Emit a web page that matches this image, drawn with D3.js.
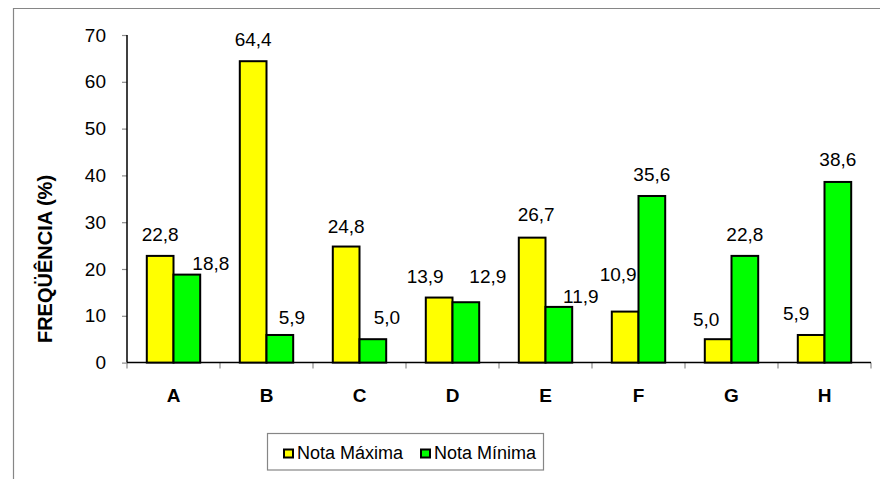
<!DOCTYPE html>
<html>
<head>
<meta charset="utf-8">
<script src="https://cdn.jsdelivr.net/npm/d3@7/dist/d3.min.js"></script>
<style>
  html, body { margin: 0; padding: 0; background: #fff; }
  svg { display: block; font-family: "Liberation Sans", Arial, sans-serif; }
</style>
</head>
<body>
<svg id="chart" width="880" height="479"></svg>
<script>
// Categories and the two series (percent)
const categories = ["A", "B", "C", "D", "E", "F", "G", "H"];
const notaMaxima = [22.8, 64.4, 24.8, 13.9, 26.7, 10.9, 5.0, 5.9];
const notaMinima = [18.8, 5.9, 5.0, 12.9, 11.9, 35.6, 22.8, 38.6];
const yTicks = [0, 10, 20, 30, 40, 50, 60, 70];
const seriesNames = ["Nota Máxima", "Nota Mínima"];
const seriesColors = ["#ffff00", "#00ff00"];
const axisTitle = "FREQÜÊNCIA (%)";

// Hand-placed nudges of the value labels [dx, dy of baseline from bar top]
const maxLabelNudge = [[0, -15], [0, -15], [0, -14], [-14, -15], [4, -17], [-7, -31], [-12, -13], [-15, -15]];
const minLabelNudge = [[24, -5], [12, -11], [14, -15], [22, -19], [22, -4], [0, -15], [0, -15], [0, -16]];

const svg = d3.select("#chart");
const fmt = d3.formatLocale({ decimal: ",", thousands: ".", grouping: [3], currency: ["", ""] }).format(".1f");

const plot = { left: 127, right: 871, top: 35, bottom: 362.6 };

const x = d3.scaleBand().domain(categories).range([plot.left, plot.right]).padding(0);
const inner = d3.scaleBand().domain([0, 1]).range([19.8, x.bandwidth() - 19.8]).padding(0);
const y = d3.scaleLinear().domain([0, 70]).range([plot.bottom, plot.top]);

// Outer frame (runs off the right and bottom edges)
svg.append("path")
  .attr("d", "M13.5,900 V8.5 H900")
  .attr("fill", "none")
  .attr("stroke", "#868686")
  .attr("stroke-width", 1.2);

// Y axis
const yAxis = svg.append("g")
  .attr("transform", `translate(${plot.left},0)`)
  .call(d3.axisLeft(y).tickValues(yTicks).tickSize(5).tickPadding(16).tickFormat(d3.format("d")));
yAxis.select(".domain").remove();
yAxis.selectAll(".tick line").attr("stroke", "#8c8c8c").attr("stroke-width", 1.2);
yAxis.selectAll(".tick text")
  .attr("font-size", 19).attr("fill", "#000")
  .attr("font-family", "Liberation Sans, Arial, sans-serif");
svg.append("line")
  .attr("x1", plot.left).attr("x2", plot.left)
  .attr("y1", plot.top).attr("y2", plot.bottom)
  .attr("stroke", "#000").attr("stroke-width", 1.5);

// X axis: ticks at category boundaries
const bounds = categories.map(c => x(c)).concat([plot.right]);
svg.append("g").selectAll("line").data(bounds).join("line")
  .attr("x1", d => d).attr("x2", d => d)
  .attr("y1", plot.bottom).attr("y2", plot.bottom + 6)
  .attr("stroke", "#8c8c8c").attr("stroke-width", 1.2);
svg.append("line")
  .attr("x1", plot.left).attr("x2", plot.right)
  .attr("y1", plot.bottom).attr("y2", plot.bottom)
  .attr("stroke", "#000").attr("stroke-width", 1.5);

svg.append("g").selectAll("text").data(categories).join("text")
  .attr("x", d => x(d) + x.bandwidth() / 2)
  .attr("y", 402)
  .attr("text-anchor", "middle")
  .attr("font-size", 19).attr("font-weight", "bold")
  .text(d => d);

// Bars
const series = [notaMaxima, notaMinima];
const nudges = [maxLabelNudge, minLabelNudge];
series.forEach((vals, s) => {
  const g = svg.append("g");
  g.selectAll("rect").data(vals).join("rect")
    .attr("x", (d, i) => x(categories[i]) + inner(s))
    .attr("y", d => y(d))
    .attr("width", inner.bandwidth())
    .attr("height", d => y(0) - y(d))
    .attr("fill", seriesColors[s])
    .attr("stroke", "#000")
    .attr("stroke-width", 2);
  g.selectAll("text").data(vals).join("text")
    .attr("x", (d, i) => x(categories[i]) + inner(s) + inner.bandwidth() / 2 + nudges[s][i][0])
    .attr("y", (d, i) => y(d) + nudges[s][i][1])
    .attr("text-anchor", "middle")
    .attr("font-size", 19)
    .text(d => fmt(d));
});

// Axis title
svg.append("text")
  .attr("transform", `translate(52,259) rotate(-90)`)
  .attr("text-anchor", "middle")
  .attr("font-size", 20).attr("font-weight", "bold")
  .text(axisTitle);

// Legend
const legend = svg.append("g");
legend.append("rect")
  .attr("x", 267.5).attr("y", 433.5).attr("width", 276).attr("height", 36.5)
  .attr("fill", "#fff").attr("stroke", "#868686").attr("stroke-width", 1.2);
const legendX = [284, 421];
seriesNames.forEach((name, s) => {
  legend.append("rect")
    .attr("x", legendX[s]).attr("y", 449.5).attr("width", 9).attr("height", 8)
    .attr("fill", seriesColors[s]).attr("stroke", "#000").attr("stroke-width", 2);
  legend.append("text")
    .attr("x", legendX[s] + 13).attr("y", 458.5)
    .attr("font-size", 18)
    .text(name);
});
</script>
</body>
</html>
